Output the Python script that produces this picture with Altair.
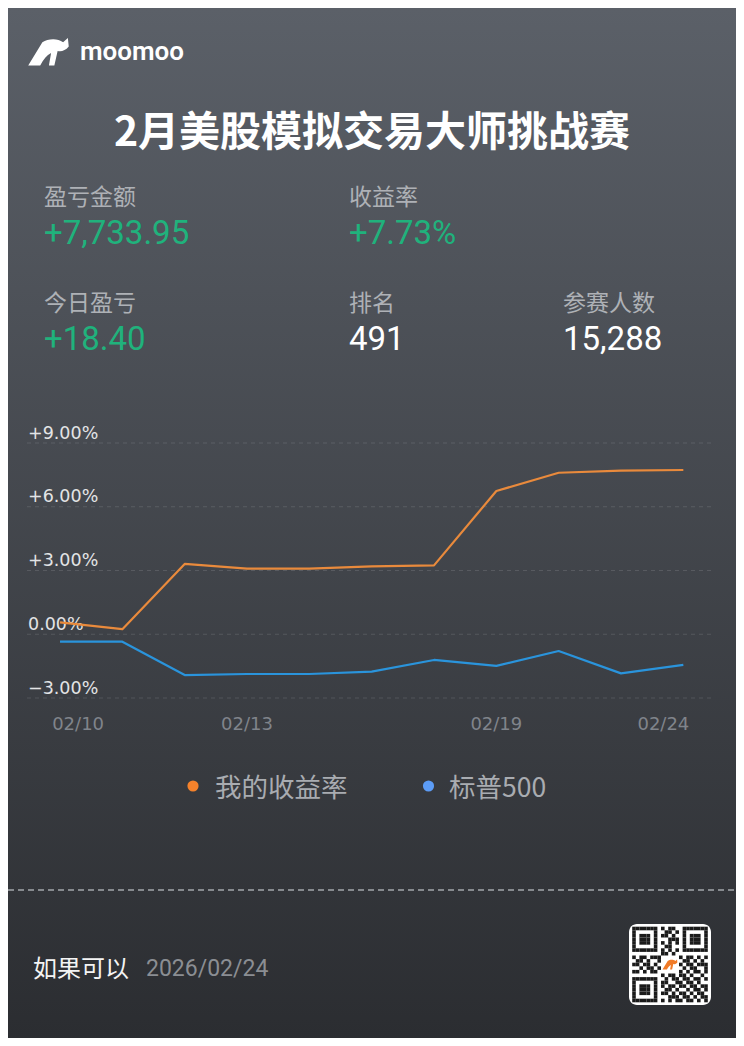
import altair as alt
import pandas as pd

# ---------------- data ----------------
dates = ["02/10", "02/11", "02/12", "02/13", "02/16", "02/17",
         "02/18", "02/19", "02/20", "02/23", "02/24"]
my_return = [0.56, 0.24, 3.31, 3.09, 3.09, 3.19, 3.24, 6.74, 7.60, 7.70, 7.73]
spx_return = [-0.35, -0.35, -1.92, -1.87, -1.87, -1.76, -1.21, -1.49, -0.79, -1.84, -1.44]
series_names = ["我的收益率", "标普500"]

y_ticks = [9, 6, 3, 0, -3]
y_tick_labels = ["+9.00%", "+6.00%", "+3.00%", "0.00%", "−3.00%"]
x_tick_dates = ["02/10", "02/13", "02/19", "02/24"]

brand = "moomoo"
title = "2月美股模拟交易大师挑战赛"
stat_labels = ["盈亏金额", "收益率", "今日盈亏", "排名", "参赛人数"]
stat_values = ["+7,733.95", "+7.73%", "+18.40", "491", "15,288"]
user_name = "如果可以"
report_date = "2026/02/24"

qr_rows = [
    "1111111" "0" "10110" "0" "1111111",
    "1000001" "0" "01101" "0" "1000001",
    "1011101" "0" "11010" "0" "1011101",
    "1011101" "0" "00111" "0" "1011101",
    "1011101" "0" "10101" "0" "1011101",
    "1000001" "0" "01100" "0" "1000001",
    "1111111" "0" "10101" "0" "1111111",
    "0000000" "0" "11010" "0" "0000000",
    "1011011" "1" "00000" "1" "0110101",
    "0110100" "1" "00000" "0" "1101010",
    "1101101" "0" "00000" "1" "0110111",
    "0010110" "1" "00000" "0" "1011001",
    "1101011" "0" "00000" "1" "0101101",
    "0000000" "0" "10110" "1" "1010010",
    "1111111" "0" "01011" "0" "1101101",
    "1000001" "0" "11001" "1" "0110100",
    "1011101" "0" "10110" "1" "1011011",
    "1011101" "0" "01101" "0" "0101101",
    "1011101" "0" "11010" "1" "1010110",
    "1000001" "0" "00111" "0" "1101011",
    "1111111" "0" "10101" "1" "0110101",
]

# ---------------- layout ----------------
W_TOTAL, H_TOTAL = 728, 1030
OX, OY = 27, 443          # plot origin in page pixels
PW, PH = 685, 255         # plot area
pad = dict(left=OX - 8, top=OY - 8, right=W_TOTAL - (OX - 8) - PW,
           bottom=H_TOTAL - (OY - 8) - PH)


def px(x):
    return x - OX


def py(y):
    return y - OY


CJK = "Noto Sans CJK SC"
xs = alt.Scale(domain=[-0.53, 10.46], nice=False, zero=False)
ys = alt.Scale(domain=[-3, 9], nice=False, zero=False)

layers = []

# background gradient
bg = alt.Chart(alt.Data(values=[{"a": 1}])).mark_rect(
    fill=alt.LinearGradient(
        gradient="linear",
        stops=[alt.GradientStop(offset=0, color="#5b6068"),
               alt.GradientStop(offset=1, color="#2b2d31")],
        x1=0, x2=0, y1=0, y2=1),
).encode(x=alt.value(px(8)), x2=alt.value(px(8 + W_TOTAL)),
         y=alt.value(py(8)), y2=alt.value(py(8 + H_TOTAL)))
layers.append(bg)


def txt(text, x, y, size, color, font=CJK, weight="normal", align="left"):
    return alt.Chart(alt.Data(values=[{"t": text}])).mark_text(
        align=align, baseline="middle", font=font, fontSize=size,
        fontWeight=weight, color=color,
    ).encode(x=alt.value(px(x)), y=alt.value(py(y)), text="t:N")


# logo
logo_path = ("M -1,0.62 L -0.35,-0.45 C -0.1,-0.62 0.35,-0.65 0.6,-0.45 "
             "L 0.82,-0.64 L 0.86,-0.25 C 0.7,-0.05 0.5,0.0 0.35,-0.05 "
             "L 0.2,0.62 L -0.05,0.62 L 0.05,0.05 C -0.15,0.15 -0.3,0.35 -0.45,0.62 Z")
layers.append(
    alt.Chart(alt.Data(values=[{"a": 1}])).mark_point(
        shape=logo_path, filled=True, fill="#ffffff", opacity=1, strokeWidth=0
    ).encode(x=alt.value(px(50)), y=alt.value(py(52)), size=alt.value(1900))
)
layers.append(txt(brand, 80, 52, 26, "#ffffff", font="Roboto", weight=600))

# title
layers.append(txt(title, 372, 134, 41, "#ffffff", weight="bold", align="center"))

# stats
label_pos = [(44, 198), (349, 198), (44, 304), (349, 304), (563, 304)]
value_pos = [(44, 234), (349, 234), (44, 340), (349, 340), (563, 340)]
value_colors = ["#20b27c", "#20b27c", "#20b27c", "#ffffff", "#ffffff"]
for lab, (x, y) in zip(stat_labels, label_pos):
    layers.append(txt(lab, x, y, 23, "#aeb1b6"))
for val, (x, y), c in zip(stat_values, value_pos, value_colors):
    layers.append(txt(val, x, y, 33, c, font="Roboto"))

# grid lines + y labels
tick_df = pd.DataFrame({"v": y_ticks, "lab": y_tick_labels})
layers.append(
    alt.Chart(tick_df).mark_rule(strokeDash=[4, 4], color="#ffffff",
                                 opacity=0.12, strokeWidth=1)
    .encode(y=alt.Y("v:Q", scale=ys, axis=None), x=alt.value(0), x2=alt.value(PW))
)
layers.append(
    alt.Chart(tick_df).mark_text(align="left", baseline="middle", dy=-9.5,
                                 font="DejaVu Sans", fontSize=17.5, color="#e3e4e6")
    .encode(y=alt.Y("v:Q", scale=ys, axis=None), x=alt.value(1), text="lab:N")
)

# lines
rows = []
for i, d in enumerate(dates):
    rows.append({"i": i, "date": d, "v": my_return[i], "s": series_names[0]})
    rows.append({"i": i, "date": d, "v": spx_return[i], "s": series_names[1]})
line_df = pd.DataFrame(rows)
layers.append(
    alt.Chart(line_df).mark_line(strokeWidth=2.2, strokeJoin="round")
    .encode(
        x=alt.X("i:Q", scale=xs, axis=None),
        y=alt.Y("v:Q", scale=ys, axis=None),
        color=alt.Color("s:N", scale=alt.Scale(domain=series_names,
                                               range=["#e98a3c", "#2a94dc"]),
                        legend=None),
        order="i:Q",
    )
)

# x labels (edge labels pulled inward)
xl_df = pd.DataFrame({"i": [dates.index(d) for d in x_tick_dates], "lab": x_tick_dates})
layers.append(
    alt.Chart(xl_df).transform_calculate(
        xp="datum.i + (datum.i == 0 ? 0.29 : (datum.i == 10 ? -0.32 : 0))"
    ).mark_text(baseline="middle", align="center", font="DejaVu Sans",
                fontSize=18, color="#80848b")
    .encode(x=alt.X("xp:Q", scale=xs, axis=None), y=alt.value(py(725)), text="lab:N")
)

# legend
dot_x = [193, 428.5]
text_x = [215, 449]
dot_colors = ["#f5822b", "#5c9cf6"]
for name, dx_, tx_, c in zip(series_names, dot_x, text_x, dot_colors):
    layers.append(
        alt.Chart(alt.Data(values=[{"a": 1}])).mark_circle(color=c, opacity=1)
        .encode(x=alt.value(px(dx_)), y=alt.value(py(786)), size=alt.value(125))
    )
    layers.append(txt(name, tx_, 789, 26.5, "#a9acb1"))

# separator
layers.append(
    alt.Chart(alt.Data(values=[{"a": 1}])).mark_rule(
        strokeDash=[6, 4], color="#a3a6ab", strokeWidth=1.5)
    .encode(x=alt.value(px(8)), x2=alt.value(px(8 + W_TOTAL)), y=alt.value(py(890)))
)

# footer
layers.append(txt(user_name, 33, 970, 24, "#f4f4f4"))
layers.append(txt(report_date, 146, 969, 23, "#8b8e93", font="Roboto"))

# QR card
layers.append(
    alt.Chart(alt.Data(values=[{"a": 1}])).mark_rect(fill="#ffffff", cornerRadius=8)
    .encode(x=alt.value(px(629)), x2=alt.value(px(711)),
            y=alt.value(py(924)), y2=alt.value(py(1005)))
)
m = 3.6
qx0, qy0 = 632.2, 926.7
cells = []
for r, row in enumerate(qr_rows):
    for c, ch in enumerate(row):
        if ch == "1":
            cells.append({"x": px(qx0 + c * m), "x2": px(qx0 + (c + 1) * m),
                          "y": py(qy0 + r * m), "y2": py(qy0 + (r + 1) * m)})
layers.append(
    alt.Chart(pd.DataFrame(cells)).mark_rect(fill="#1a1a1a")
    .encode(x=alt.X("x:Q", scale=None), x2="x2:Q",
            y=alt.Y("y:Q", scale=None), y2="y2:Q")
)
layers.append(
    alt.Chart(alt.Data(values=[{"a": 1}])).mark_point(
        shape=logo_path, filled=True, fill="#f07a26", opacity=1, strokeWidth=0
    ).encode(x=alt.value(px(670.5)), y=alt.value(py(964.5)), size=alt.value(256))
)

chart = alt.layer(*layers).properties(
    width=PW, height=PH, padding=pad,
    autosize=alt.AutoSizeParams(type="none"),
    background="#2b2d31",
).configure_view(stroke=None)

chart.save("out.html", embed_options={"renderer": "svg", "actions": False})
